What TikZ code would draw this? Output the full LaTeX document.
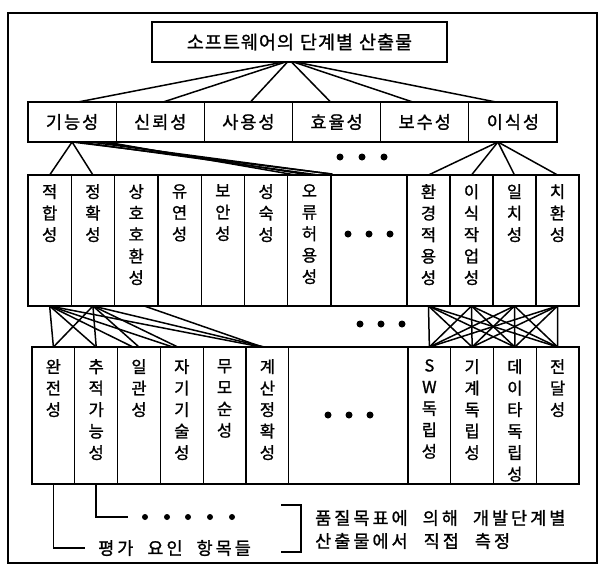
\documentclass[tikz,border=0pt]{standalone}
\usepackage{fontspec}
\newfontfamily\kr[FakeBold=1.2]{Noto Sans CJK KR}
\makeatletter
\newcommand{\spread}[2]{\def\spread@sp{\hspace{#1}}\@tfor\spread@c:=#2\do{\spread@c\spread@sp}\unskip}
\makeatother
\usetikzlibrary{calc}
\tikzset{
  box/.style={draw, line width=1.3pt, inner sep=0pt, outer sep=0pt, anchor=north west},
  topbox/.style={box, minimum width=295pt, minimum height=40pt, font=\kr\fontsize{18.5}{20}\selectfont},
  r2box/.style={box, minimum width=88.17pt, minimum height=40pt, font=\kr\fontsize{17.5}{19}\selectfont},
  r3box/.style={box, minimum width=43.3pt, minimum height=131pt},
  r4box/.style={box, minimum width=42.8pt, minimum height=137pt},
  vtxt/.style={anchor=north, inner sep=0pt, align=center, font=\kr\fontsize{16.5}{21.5}\selectfont},
  link/.style={line width=1.5pt, line cap=round},
  dotm/.style={circle, fill=black, inner sep=0pt, minimum size=7pt},
  sdot/.style={circle, fill=black, inner sep=0pt, minimum size=6pt},
  note/.style={anchor=west, inner sep=0pt, font=\kr\fontsize{17.5}{19}\selectfont},
}
\begin{document}
\begin{tikzpicture}[x=1pt,y=-1pt]
\useasboundingbox (0,0) rectangle (601,565);
\draw[line width=1.3pt] (8,13) rectangle (597,563);

% top
\node[topbox] (top) at (152,22) {\spread{1pt}{소프트웨어의{\hspace{4pt}}단계별{\hspace{4pt}}산출물}};

% row 2
\node[r2box] (r2a) at (28,102) {\spread{2pt}{기능성}};
\node[r2box] (r2b) at (116.17,102) {\spread{2pt}{신뢰성}};
\node[r2box] (r2c) at (204.33,102) {\spread{2pt}{사용성}};
\node[r2box] (r2d) at (292.5,102) {\spread{2pt}{효율성}};
\node[r2box] (r2e) at (380.67,102) {\spread{2pt}{보수성}};
\node[r2box] (r2f) at (468.83,102) {\spread{2pt}{이식성}};

% row 3
\node[r3box] (r3a) at (28,175) {};
\node[r3box] (r3b) at (71.3,175) {};
\node[r3box] (r3c) at (114.6,175) {};
\node[r3box] (r3d) at (157.9,175) {};
\node[r3box] (r3e) at (201.2,175) {};
\node[r3box] (r3f) at (244.5,175) {};
\node[r3box] (r3g) at (287.8,175) {};
\node[r3box, minimum width=75.9pt] (r3h) at (331.1,175) {};
\node[r3box, minimum width=43pt] (r3i) at (407,175) {};
\node[r3box, minimum width=43pt] (r3j) at (450,175) {};
\node[r3box, minimum width=43pt] (r3k) at (493,175) {};
\node[r3box, minimum width=43pt] (r3l) at (536,175) {};

\node[vtxt] (t3a) at ($(r3a.north)+(0,9)$) {적\\합\\성};
\node[vtxt] (t3b) at ($(r3b.north)+(0,9)$) {정\\확\\성};
\node[vtxt] (t3c) at ($(r3c.north)+(0,9)$) {상\\호\\호\\환\\성};
\node[vtxt] (t3d) at ($(r3d.north)+(0,9)$) {유\\연\\성};
\node[vtxt] (t3e) at ($(r3e.north)+(0,9)$) {보\\안\\성};
\node[vtxt] (t3f) at ($(r3f.north)+(0,9)$) {성\\숙\\성};
\node[vtxt] (t3g) at ($(r3g.north)+(0,9)$) {오\\류\\허\\용\\성};
\node[vtxt] (t3i) at ($(r3i.north)+(0,9)$) {환\\경\\적\\용\\성};
\node[vtxt] (t3j) at ($(r3j.north)+(0,9)$) {이\\식\\작\\업\\성};
\node[vtxt] (t3k) at ($(r3k.north)+(0,9)$) {일\\치\\성};
\node[vtxt] (t3l) at ($(r3l.north)+(0,9)$) {치\\환\\성};

% row 4
\node[r4box] (r4a) at (32,347) {};
\node[r4box] (r4b) at (74.8,347) {};
\node[r4box] (r4c) at (117.6,347) {};
\node[r4box] (r4d) at (160.4,347) {};
\node[r4box] (r4e) at (203.2,347) {};
\node[r4box] (r4f) at (246,347) {};
\node[r4box, minimum width=119.2pt] (r4g) at (288.8,347) {};
\node[r4box, minimum width=42.75pt] (r4h) at (408,347) {};
\node[r4box, minimum width=42.75pt] (r4i) at (450.75,347) {};
\node[r4box, minimum width=42.75pt] (r4j) at (493.5,347) {};
\node[r4box, minimum width=42.75pt] (r4k) at (536.25,347) {};

\node[vtxt] (t4a) at ($(r4a.north)+(0,12)$) {완\\전\\성};
\node[vtxt] (t4b) at ($(r4b.north)+(0,12)$) {추\\적\\가\\능\\성};
\node[vtxt] (t4c) at ($(r4c.north)+(0,12)$) {일\\관\\성};
\node[vtxt] (t4d) at ($(r4d.north)+(0,12)$) {자\\기\\기\\술\\성};
\node[vtxt] (t4e) at ($(r4e.north)+(0,12)$) {무\\모\\순\\성};
\node[vtxt] (t4f) at ($(r4f.north)+(0,12)$) {계\\산\\정\\확\\성};
\node[vtxt] (t4h) at ($(r4h.north)+(0,12)$) {S\\W\\독\\립\\성};
\node[vtxt] (t4i) at ($(r4i.north)+(0,12)$) {기\\계\\독\\립\\성};
\node[vtxt] (t4j) at ($(r4j.north)+(0,12)$) {데\\이\\타\\독\\립\\성};
\node[vtxt] (t4k) at ($(r4k.north)+(0,12)$) {전\\달\\성};

% top -> row 2
\draw[link] ($(top.south)+(-16,0)$) -- ($(r2a.north)+(6,0)$);
\draw[link] ($(top.south)+(-14,0)$) -- ($(r2b.north)+(3,0)$);
\draw[link] ($(top.south)+(-12,0)$) -- ($(r2c.north)+(2,0)$);
\draw[link] ($(top.south)+(-8,0)$) -- ($(r2d.north)+(-6,0)$);
\draw[link] ($(top.south)+(-6,0)$) -- ($(r2e.north)+(-12,0)$);
\draw[link] ($(top.south)+(-4,0)$) -- ($(r2f.north)+(-17,0)$);

% row 2 -> row 3 (left)
\draw[link] (r2a.south) -- (r3a.north);
\draw[link] (r2a.south) -- (r3b.north);
\draw[link] (r2a.south) -- ($(r3g.north east)+(1,-1)$);
\draw[link] ($(r2a.south)+(6,0)$) -- ($(r3g.north)+(9,0)$);
\draw[link] ($(r2a.south)+(18,0)$) -- ($(r3g.north east)+(0,-1)$);
\draw[link] ($(r2a.south)+(28,0)$) -- (r3g.north);
\draw[link] ($(r2a.south)+(34,0)$) -- ($(r3g.north)+(-14,0)$);

% row 2 -> row 3 (right)
\draw[link] ($(r2f.south)+(-15,0)$) -- (r3i.north);
\draw[link] ($(r2f.south)+(-15,0)$) -- (r3j.north);
\draw[link] ($(r2f.south)+(-15,0)$) -- (r3k.north);
\draw[link] ($(r2f.south)+(-15,0)$) -- (r3l.north);

% row 3 -> row 4 (left)
\draw[link] (r3a.south) -- (r4a.north);
\draw[link] (r3a.south) -- (r4b.north);
\draw[link] (r3a.south) -- ($(r4c.north)+(-6,0)$);
\draw[link] (r3a.south) -- ($(r4d.north)+(-9,0)$);
\draw[link] (r3a.south) -- ($(r4f.north)+(-6,0)$);
\draw[link] (r3b.south) -- (r4a.north);
\draw[link] (r3b.south) -- (r4b.north);
\draw[link] (r3b.south) -- (r4c.north);
\draw[link] (r3b.south) -- ($(r4d.north)+(-4,0)$);
\draw[link] (r3b.south) -- ($(r4f.north)+(-3,0)$);
\draw[link] ($(r3c.south)+(8,0)$) -- ($(r4f.north)+(-5,0)$);

% row 3 -> row 4 (right, all pairs)
\foreach \u in {r3i,r3j,r3k,r3l}{
  \foreach \v in {r4h,r4i,r4j,r4k}{
    \draw[link] (\u.south) -- (\v.north);
  }
}

% dots
\node[dotm] (da1) at (340,157) {};
\node[dotm] (da2) at (362,157) {};
\node[dotm] (da3) at (384,157) {};
\node[dotm] (db1) at (348,234) {};
\node[dotm] (db2) at (369,234) {};
\node[dotm] (db3) at (390,234) {};
\node[dotm] (dc1) at (360,324) {};
\node[dotm] (dc2) at (381,324) {};
\node[dotm] (dc3) at (402,324) {};
\node[dotm] (dd1) at (328,415) {};
\node[dotm] (dd2) at (349,415) {};
\node[dotm] (dd3) at (370,415) {};

% bottom notes
\coordinate (b1) at (85,548);
\draw[link, line cap=butt] (r4a.south) |- (b1);
\node[note] (n1) at (98,548) {\spread{3pt}{평가{\hspace{8pt}}요인{\hspace{8pt}}항목들}};
\coordinate (b2) at (128,517);
\draw[link, line cap=butt] (r4b.south) |- (b2);
\node[sdot] (e1) at (145,517) {};
\node[sdot] (e2) at (167,517) {};
\node[sdot] (e3) at (188,517) {};
\node[sdot] (e4) at (210,517) {};
\node[sdot] (e5) at (232,517) {};
\coordinate (k1) at (281,505);
\coordinate (k2) at (301,505);
\coordinate (k3) at (301,552);
\coordinate (k4) at (281,552);
\draw[link, line cap=butt] (k1) -- (k2) -- (k3) -- (k4);
\node[note] (n2) at (315,518) {\spread{3pt}{품질목표에{\hspace{9pt}}의해{\hspace{9pt}}개발단계별}};
\node[note] (n3) at (315,541) {\spread{3pt}{산출물에서{\hspace{10pt}}직접{\hspace{10pt}}측정}};
\end{tikzpicture}
\end{document}
